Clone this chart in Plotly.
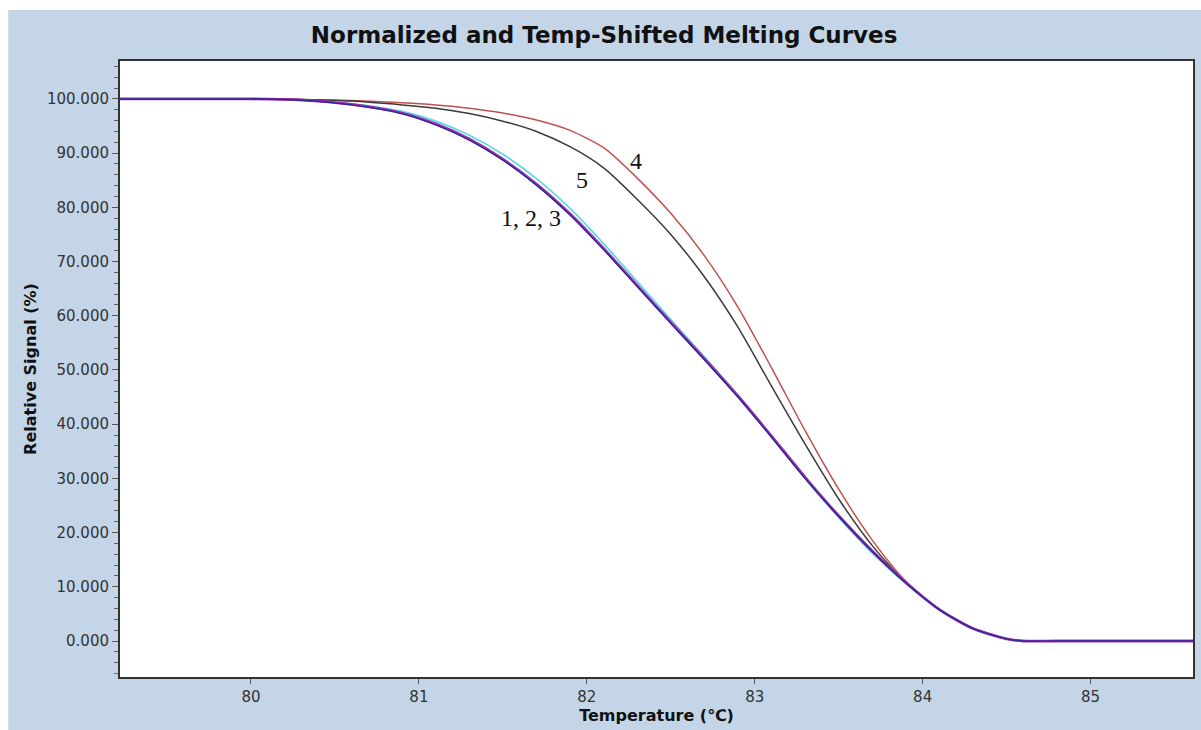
import plotly.graph_objects as go

# ---------------- data ----------------
temperature = [79.22, 80.0, 80.3, 80.6, 80.9, 81.1, 81.3, 81.5, 81.7, 81.9,
               82.1, 82.3, 82.5, 82.7, 82.9, 83.1, 83.3, 83.5, 83.7, 83.9,
               84.1, 84.3, 84.5, 84.6, 84.8, 85.61]

curve1 = [100, 100, 99.8, 99.0, 97.4, 95.4, 92.6, 88.9, 84.3, 78.8,
          72.4, 65.6, 58.8, 52.1, 45.2, 37.8, 30.2, 23.1, 16.6, 10.8,
          5.8, 2.3, 0.4, 0.0, 0.0, 0.0]
curve2 = [100, 100, 99.8, 98.9, 97.3, 95.2, 92.4, 88.7, 84.1, 78.6,
          72.2, 65.4, 58.6, 51.9, 45.0, 37.6, 30.0, 23.0, 16.5, 10.7,
          5.8, 2.3, 0.4, 0.0, 0.0, 0.0]
curve3 = [100, 100, 99.8, 99.1, 97.7, 95.9, 93.3, 89.8, 85.3, 79.8,
          73.3, 66.3, 59.3, 52.4, 45.3, 37.7, 30.0, 22.8, 16.2, 10.6,
          5.8, 2.3, 0.4, 0.0, 0.0, 0.0]
curve4 = [100, 100, 99.9, 99.7, 99.3, 98.9, 98.3, 97.4, 96.1, 94.2,
          91.0, 85.4, 78.9, 71.1, 61.6, 50.4, 38.8, 28.0, 18.6, 11.0,
          5.8, 2.3, 0.4, 0.0, 0.0, 0.0]
curve5 = [100, 100, 99.9, 99.6, 98.9, 98.3, 97.3, 95.9, 94.0, 91.2,
          87.3, 81.5, 75.0, 67.2, 57.9, 47.0, 36.3, 26.2, 17.6, 10.8,
          5.8, 2.3, 0.4, 0.0, 0.0, 0.0]

y_ticks = [0, 10, 20, 30, 40, 50, 60, 70, 80, 90, 100]
y_tick_labels = ["%.3f" % v for v in y_ticks]
x_ticks = [80, 81, 82, 83, 84, 85]

labels = ["1, 2, 3", "5", "4"]
label_x = [81.67, 81.97, 82.29]
label_y = [78.0, 85.1, 88.5]

# ---------------- figure ----------------
fig = go.Figure()

def add(y, color, width):
    fig.add_trace(go.Scatter(x=temperature, y=y, mode="lines",
                             line=dict(color=color, width=width, shape="spline", smoothing=0.7),
                             showlegend=False, hoverinfo="skip"))

add(curve4, "#c0504d", 1.5)
add(curve5, "#3a3a3a", 1.5)
add(curve3, "#5fd8e8", 1.8)
add(curve1, "#a030b0", 2.8)
add(curve2, "#2a2a90", 1.4)

for t, xx, yy in zip(labels, label_x, label_y):
    fig.add_annotation(x=xx, y=yy, text=t, showarrow=False,
                       font=dict(family="Liberation Serif, Times New Roman, serif",
                                 size=24, color="#111111"))

# white outer strips around the light-blue chart background
fig.add_shape(type="rect", xref="paper", yref="paper",
              x0=-0.12, x1=-0.1042, y0=-0.1, y1=1.2,
              fillcolor="white", line=dict(width=0), layer="below")
fig.add_shape(type="rect", xref="paper", yref="paper",
              x0=-0.12, x1=1.1, y0=1.0828, y1=1.2,
              fillcolor="white", line=dict(width=0), layer="below")

fig.update_layout(
    width=1201, height=730,
    margin=dict(l=120, r=6, t=61, b=53),
    paper_bgcolor="#c3d5e6",
    plot_bgcolor="white",
    title=dict(text="<b>Normalized and Temp-Shifted Melting Curves</b>",
               xref="container", x=0.503, xanchor="center",
               yref="container", y=1 - 35 / 730, yanchor="middle",
               font=dict(family="DejaVu Sans", size=23, color="#111111")),
    xaxis=dict(range=[79.22, 85.61], tickvals=x_ticks,
               ticks="outside", ticklen=5, tickcolor="#555555",
               showgrid=False, zeroline=False,
               showline=True, linecolor="#333333", linewidth=2, mirror=True,
               tickfont=dict(family="DejaVu Sans", size=15, color="#333333"),
               title=dict(text="<b>Temperature (℃)</b>", standoff=4,
                          font=dict(family="DejaVu Sans", size=16, color="#111111"))),
    yaxis=dict(range=[-6.64, 107.0], tickvals=y_ticks, ticktext=y_tick_labels,
               ticks="outside", ticklen=6, tickcolor="#555555",
               minor=dict(dtick=2, ticks="outside", ticklen=4, tickcolor="#666666", showgrid=False),
               showgrid=False, zeroline=False,
               showline=True, linecolor="#333333", linewidth=2, mirror=True,
               tickfont=dict(family="DejaVu Sans", size=15, color="#333333"),
               title=dict(text="<b>Relative Signal (%)</b>", standoff=6,
                          font=dict(family="DejaVu Sans", size=16, color="#111111"))),
)

fig.write_html("out.html")
